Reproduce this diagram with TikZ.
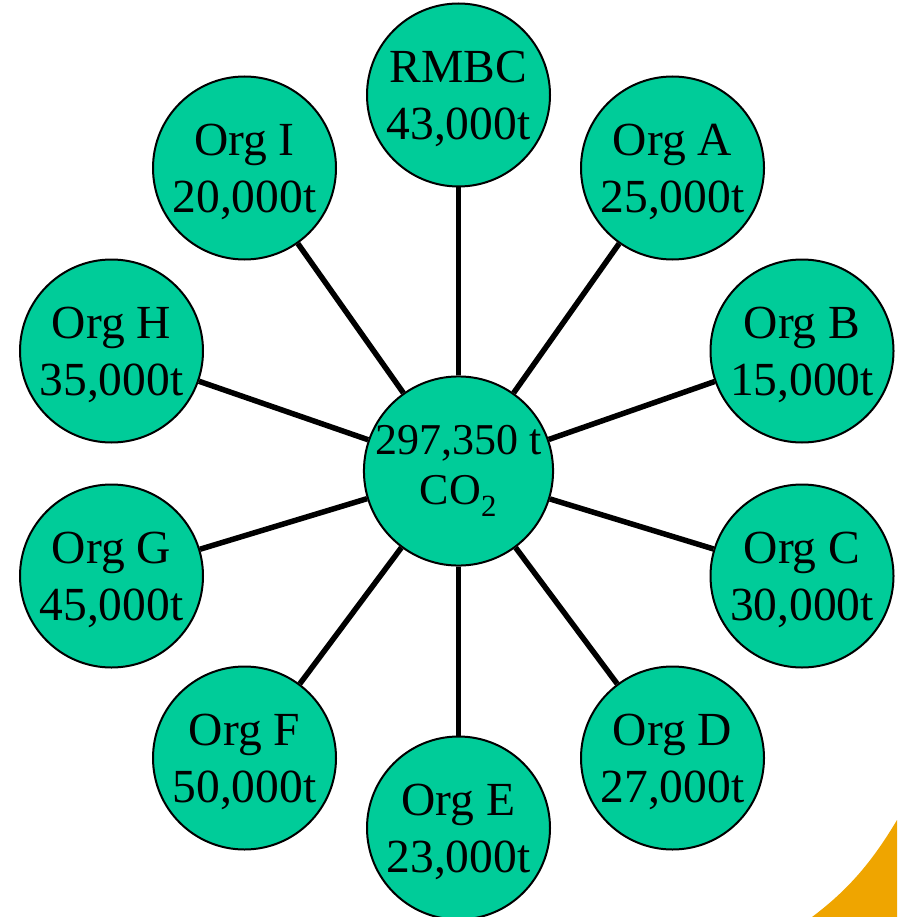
\documentclass[tikz,border=0pt]{standalone}
\usepackage{fontspec}
\setmainfont{Liberation Serif}
\usepackage{tikz}
\definecolor{orggreen}{RGB}{0,204,153}
\definecolor{cornerorange}{RGB}{239,165,0}
\tikzset{
  bubble/.style={circle,draw,fill=orggreen,line width=2pt,minimum size=183pt,
    inner sep=0pt,align=center},
  org/.style={bubble,text depth=0pt,font=\fontsize{47.5}{57}\selectfont},
  hub/.style={bubble,font=\fontsize{44}{50}\selectfont},
  spoke/.style={line width=5.5pt}
}

\begin{document}
\begin{tikzpicture}[x=1pt,y=-1pt]
            \useasboundingbox (0,0) rectangle (897,917);
            \fill[cornerorange] (897,820) .. controls (872,862) and (848,890) .. (812,917)
                -- (897,917) -- cycle;
            \node[hub](co2) at (458.5,471){297,350 t\\CO\textsubscript{2}};
            \node[org](rmbc) at (458.5,95){RMBC\\43,000t};
            \node[org](a) at (672.5,168){Org A\\25,000t};
            \node[org](b) at (802,351){Org B\\15,000t};
            \node[org](c) at (802,576){Org C\\30,000t};
            \node[org](d) at (672.5,758){Org D\\27,000t};
            \node[org](e) at (458.5,828){Org E\\23,000t};
            \node[org](f) at (244.5,758){Org F\\50,000t};
            \node[org](g) at (111.5,576){Org G\\45,000t};
            \node[org](h) at (111.5,351){Org H\\35,000t};
            \node[org](i) at (244.5,168){Org I\\20,000t};
            \path[spoke](co2) edge node{}(rmbc)
                        edge node{}(a)
                        edge node{}(b)
                        edge node{}(c)
                        edge node{}(d)
                        edge node{}(e)
                        edge node{}(f)
                        edge node{}(g)
                        edge node{}(h)
                        edge node{}(i);
        \end{tikzpicture}
\end{document}
